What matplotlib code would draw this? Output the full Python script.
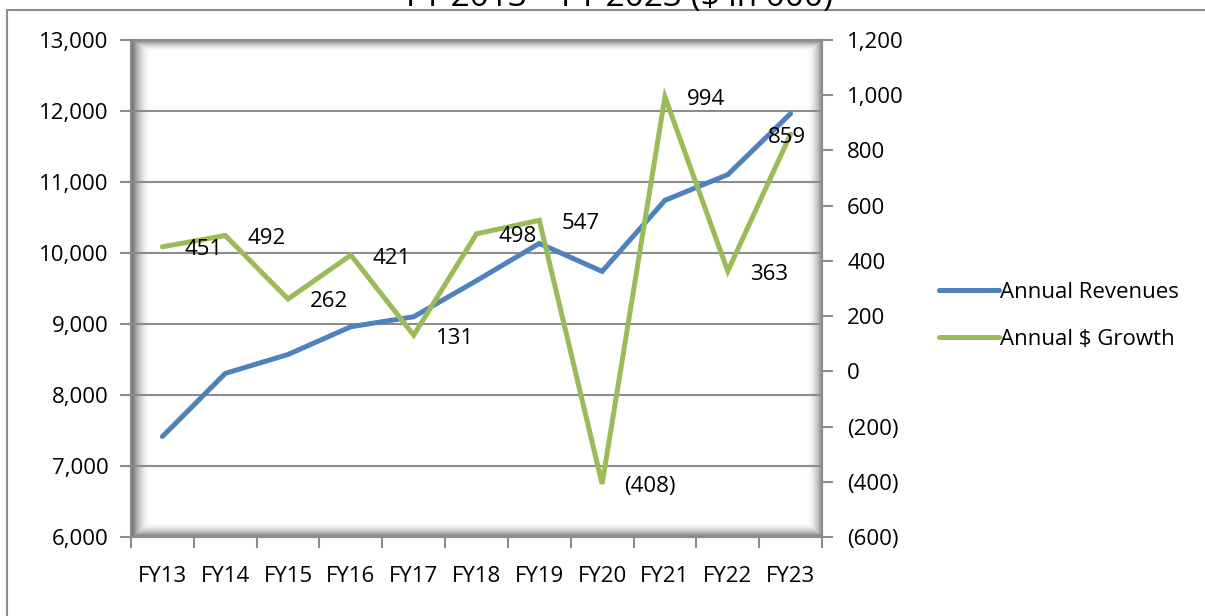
import numpy as np
import matplotlib
matplotlib.use("Agg")
import matplotlib.pyplot as plt
from matplotlib.lines import Line2D
from matplotlib.ticker import FuncFormatter

plt.rcParams['font.family'] = ['Open Sans', 'DejaVu Sans']

years = ['FY13', 'FY14', 'FY15', 'FY16', 'FY17', 'FY18',
         'FY19', 'FY20', 'FY21', 'FY22', 'FY23']
revenues = [7415, 8304, 8571, 8962, 9102, 9610,
            10135, 9741, 10742, 11104, 11963]
growth = [451, 492, 262, 421, 131, 498, 547, -408, 994, 363, 859]

title = 'FY 2013 \u2013 FY 2023 ($ in 000)'
blue = '#4F81BD'
green = '#9BBB59'
grid_gray = '#8C8C8C'
fs = 16


def money(v, pos=None):
    if v < 0:
        return '({:,.0f})'.format(abs(v))
    return '{:,.0f}'.format(v)


fig = plt.figure(figsize=(12.05, 6.16), dpi=100)
ax = fig.add_axes([131 / 1205, 79 / 616, 691 / 1205, 497 / 616])
ax2 = ax.twinx()

x = np.arange(len(years))

# inner shadow of the plot area
H, W = 497, 691
yy, xx = np.mgrid[0:H, 0:W]
shade = np.maximum.reduce([
    np.clip(1 - xx / 20.0, 0, 1) ** 2 * 0.6,
    np.clip(1 - (W - xx) / 16.0, 0, 1) ** 2 * 0.5,
    np.clip(1 - yy / 12.0, 0, 1) ** 2 * 0.5,
    np.clip(1 - (H - yy) / 16.0, 0, 1) ** 2 * 0.6,
])
img = np.dstack([1 - shade] * 3)
ax.imshow(img, extent=[-0.5, 10.5, 6000, 13000], aspect='auto', zorder=0,
          interpolation='bilinear')

ax.set_xlim(-0.5, 10.5)
ax.set_ylim(6000, 13000)
ax.set_yticks(np.arange(6000, 13001, 1000))
ax.yaxis.set_major_formatter(FuncFormatter(money))
ax.set_axisbelow(True)
ax.grid(axis='y', color=grid_gray, linewidth=1.5)

ax.set_xticks(x)
ax.set_xticklabels(years)
ax.set_xticks(np.arange(-0.5, 11, 1), minor=True)
ax.tick_params(axis='x', which='major', length=0, pad=21, labelsize=fs)
ax.tick_params(axis='x', which='minor', length=8, width=1.5, color=grid_gray)
ax.tick_params(axis='y', length=8, width=1.5, color=grid_gray, pad=8,
               labelsize=fs)

ax2.set_ylim(-600, 1200)
ax2.set_yticks(np.arange(-600, 1201, 200))
ax2.yaxis.set_major_formatter(FuncFormatter(money))
ax2.tick_params(axis='y', length=8, width=1.5, color=grid_gray, pad=10,
                labelsize=fs)

for a in (ax, ax2):
    for s in a.spines.values():
        s.set_color(grid_gray)
        s.set_linewidth(1.5)

l1, = ax.plot(x, revenues, color=blue, linewidth=3.6,
              solid_capstyle='round', solid_joinstyle='miter', zorder=3)
l2, = ax2.plot(x, growth, color=green, linewidth=3.6,
               solid_capstyle='round', solid_joinstyle='miter', zorder=3)

for xi, g in zip(x, growth):
    if xi == len(years) - 1:
        # last label is pulled back inside the plot area
        ax2.annotate(money(g), (xi, g), xytext=(-4, -3),
                     textcoords='offset pixels', ha='center', va='center',
                     fontsize=fs, zorder=4)
    else:
        ax2.annotate(money(g), (xi, g), xytext=(22, -3),
                     textcoords='offset pixels', ha='left', va='center',
                     fontsize=fs, zorder=4)

fig.legend([l1, l2], ['Annual Revenues', 'Annual $ Growth'],
           loc='center left', bbox_to_anchor=(939 / 1205, 1 - 316 / 616),
           frameon=False, fontsize=fs, handlelength=2.7, handletextpad=0.05,
           labelspacing=1.15, borderpad=0, borderaxespad=0)

fig.text(0.514, 1 - 6 / 616, title, ha='center', va='baseline', fontsize=24)

# chart frame
fig.add_artist(Line2D([7 / 1205, 1], [1 - 9.5 / 616] * 2, color='#8C8C8C',
                      linewidth=1.5, transform=fig.transFigure))
fig.add_artist(Line2D([7 / 1205] * 2, [0, 1 - 9.5 / 616], color='#8C8C8C',
                      linewidth=1.5, transform=fig.transFigure))

fig.savefig('out.png', dpi=100)
